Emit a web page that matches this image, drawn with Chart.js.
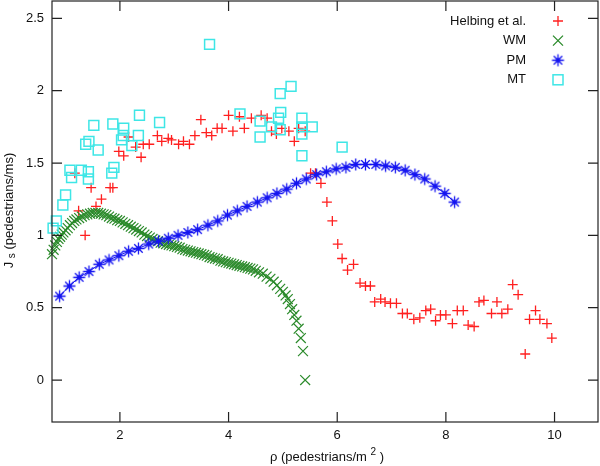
<!DOCTYPE html>
<html><head><meta charset="utf-8">
<style>html,body{margin:0;padding:0;background:#fff}#wrap{width:600px;height:466px}</style>
<script src="https://cdn.jsdelivr.net/npm/chart.js@4.4.1/dist/chart.umd.min.js"></script>
</head><body><div id="wrap"><canvas id="c" width="600" height="466"></canvas></div>
<script>
// ---- data ----
const xTicks = [2, 4, 6, 8, 10];
const yTicks = [0, 0.5, 1, 1.5, 2, 2.5];
const seriesNames = ["Helbing et al.", "WM", "PM", "MT"];

const helbingX = [1.17,1.24,1.36,1.47,1.56,1.66,1.82,1.87,1.98,2.07,2.16,2.29,2.39,2.43,2.54,2.69,2.77,2.89,2.95,3.08,3.17,3.28,3.38,3.49,3.59,3.69,3.79,3.88,4.00,4.08,4.20,4.29,4.42,4.60,4.71,4.79,4.88,4.98,5.11,5.21,5.29,5.41,5.51,5.60,5.70,5.81,5.91,6.01,6.09,6.19,6.30,6.42,6.52,6.61,6.69,6.80,6.88,6.98,7.09,7.20,7.29,7.41,7.52,7.63,7.72,7.81,7.90,8.00,8.12,8.21,8.32,8.41,8.52,8.61,8.70,8.84,8.94,9.03,9.14,9.23,9.33,9.46,9.54,9.65,9.73,9.86,9.95];
const helbingY = [1.43,1.17,1.00,1.33,1.20,1.25,1.33,1.33,1.58,1.55,1.68,1.61,1.54,1.63,1.63,1.69,1.65,1.67,1.66,1.63,1.65,1.63,1.69,1.80,1.71,1.69,1.74,1.74,1.83,1.72,1.82,1.74,1.81,1.83,1.81,1.72,1.70,1.74,1.72,1.65,1.74,1.72,1.43,1.43,1.36,1.23,1.10,0.94,0.84,0.76,0.80,0.67,0.65,0.65,0.54,0.56,0.54,0.53,0.53,0.46,0.46,0.42,0.43,0.48,0.49,0.41,0.45,0.45,0.39,0.48,0.48,0.38,0.37,0.54,0.55,0.46,0.54,0.46,0.49,0.66,0.59,0.18,0.42,0.48,0.42,0.39,0.29];

const wmX = [0.75,0.78,0.81,0.84,0.87,0.90,0.93,0.96,1.00,1.04,1.08,1.12,1.16,1.20,1.25,1.30,1.35,1.40,1.45,1.50,1.55,1.60,1.65,1.70,1.75,1.80,1.85,1.90,1.95,2.00,2.05,2.10,2.15,2.20,2.25,2.30,2.35,2.40,2.45,2.50,2.55,2.60,2.65,2.70,2.75,2.80,2.85,2.90,2.95,3.00,3.05,3.10,3.15,3.20,3.25,3.30,3.35,3.40,3.45,3.50,3.55,3.60,3.65,3.70,3.75,3.80,3.85,3.90,3.95,4.00,4.05,4.10,4.15,4.20,4.25,4.30,4.35,4.40,4.45,4.50,4.56,4.63,4.70,4.77,4.83,4.89,4.95,5.00,5.05,5.09,5.13,5.17,5.21,5.25,5.29,5.33,5.37,5.41];
const wmY = [0.87,0.90,0.93,0.955,0.975,0.99,1.005,1.02,1.035,1.05,1.07,1.085,1.10,1.11,1.12,1.13,1.14,1.145,1.15,1.155,1.155,1.155,1.15,1.145,1.14,1.13,1.12,1.115,1.105,1.10,1.09,1.08,1.07,1.06,1.05,1.04,1.03,1.02,1.005,0.995,0.985,0.975,0.965,0.96,0.95,0.945,0.94,0.935,0.93,0.925,0.92,0.915,0.905,0.90,0.895,0.89,0.885,0.88,0.875,0.87,0.865,0.86,0.85,0.845,0.84,0.835,0.825,0.82,0.815,0.81,0.805,0.80,0.795,0.79,0.785,0.78,0.775,0.77,0.765,0.755,0.745,0.735,0.715,0.70,0.68,0.655,0.63,0.61,0.585,0.56,0.525,0.49,0.45,0.41,0.355,0.29,0.20,0.00];

const pmX = [0.89,1.07,1.25,1.43,1.62,1.80,1.98,2.16,2.34,2.53,2.71,2.89,3.07,3.25,3.43,3.62,3.80,3.98,4.16,4.34,4.53,4.71,4.89,5.07,5.25,5.43,5.62,5.80,5.98,6.16,6.34,6.52,6.71,6.89,7.07,7.25,7.43,7.61,7.80,7.98,8.16];
const pmY = [0.58,0.65,0.71,0.75,0.80,0.83,0.86,0.89,0.91,0.94,0.96,0.98,1.00,1.02,1.04,1.07,1.10,1.14,1.17,1.20,1.23,1.26,1.29,1.32,1.36,1.39,1.42,1.44,1.46,1.47,1.49,1.49,1.49,1.48,1.47,1.45,1.42,1.39,1.34,1.29,1.23];

const mtX = [0.77,0.83,0.95,1.00,1.08,1.11,1.29,1.42,1.42,1.37,1.43,1.52,1.60,1.85,1.89,1.87,2.03,2.06,2.07,2.22,2.34,2.36,2.73,3.65,4.21,4.58,4.58,4.79,4.92,4.95,4.95,4.96,5.15,5.35,5.35,5.35,5.35,5.54,6.09];
const mtY = [1.05,1.10,1.21,1.28,1.45,1.40,1.45,1.44,1.39,1.63,1.65,1.76,1.59,1.43,1.47,1.77,1.66,1.69,1.74,1.62,1.69,1.83,1.78,2.32,1.84,1.79,1.68,1.75,1.81,1.73,1.98,1.85,2.03,1.81,1.75,1.70,1.55,1.75,1.61];

// ---- styling ----
const RED = '#ff1f1f', GREEN = '#2a8a2a', BLUE = '#1414f0', CYAN = '#3ee6e6';
const FONT = '"Liberation Sans", Arial, Helvetica, sans-serif';

function pts(xs, ys) { return xs.map((x, i) => ({x: x, y: ys[i]})); }

// asterisk-with-dot marker for PM
function makeStar(color) {
  const c = document.createElement('canvas');
  c.width = 15; c.height = 15;
  const g = c.getContext('2d');
  const m = 7.5, r = 6, d = r * Math.SQRT1_2;
  g.strokeStyle = color; g.lineWidth = 1.3;
  g.beginPath();
  g.moveTo(m - r, m); g.lineTo(m + r, m);
  g.moveTo(m, m - r); g.lineTo(m, m + r);
  g.moveTo(m - d, m - d); g.lineTo(m + d, m + d);
  g.moveTo(m - d, m + d); g.lineTo(m + d, m - d);
  g.stroke();
  g.fillStyle = color;
  g.beginPath(); g.arc(m, m, 2.2, 0, Math.PI * 2); g.fill();
  return c;
}
const starImg = makeStar(BLUE);

function drawMarker(ctx, kind, x, y, color) {
  ctx.save();
  ctx.strokeStyle = color;
  if (kind === 'cross') {
    ctx.lineWidth = 1.3; ctx.beginPath();
    ctx.moveTo(x - 5, y); ctx.lineTo(x + 5, y); ctx.moveTo(x, y - 5); ctx.lineTo(x, y + 5); ctx.stroke();
  } else if (kind === 'crossRot') {
    ctx.lineWidth = 1.3; ctx.beginPath();
    ctx.moveTo(x - 5, y - 5); ctx.lineTo(x + 5, y + 5); ctx.moveTo(x - 5, y + 5); ctx.lineTo(x + 5, y - 5); ctx.stroke();
  } else if (kind === 'star') {
    ctx.drawImage(starImg, x - 7.5, y - 7.5);
  } else if (kind === 'rect') {
    ctx.lineWidth = 1.5; ctx.strokeRect(x - 5, y - 5, 10, 10);
  }
  ctx.restore();
}

function drawRich(ctx, pieces, x, y) {
  // pieces: [text, size, dy]; drawn centred on x
  let total = 0;
  pieces.forEach(p => { ctx.font = p[1] + 'px ' + FONT; total += ctx.measureText(p[0]).width; });
  let cx = x - total / 2;
  pieces.forEach(p => {
    ctx.font = p[1] + 'px ' + FONT;
    ctx.fillText(p[0], cx, y + p[2]);
    cx += ctx.measureText(p[0]).width;
  });
}

const decor = {
  id: 'decor',
  afterDraw(chart) {
    const {ctx, chartArea: a, scales: {x, y}} = chart;
    ctx.save();
    // frame
    ctx.strokeStyle = '#222'; ctx.lineWidth = 1.2;
    ctx.strokeRect(a.left, a.top, a.right - a.left, a.bottom - a.top);
    // inward ticks, mirrored
    const L = 10;
    ctx.beginPath();
    x.ticks.forEach(t => {
      const px = x.getPixelForValue(t.value);
      ctx.moveTo(px, a.bottom); ctx.lineTo(px, a.bottom - L);
      ctx.moveTo(px, a.top); ctx.lineTo(px, a.top + L);
    });
    y.ticks.forEach(t => {
      const py = y.getPixelForValue(t.value);
      ctx.moveTo(a.left, py); ctx.lineTo(a.left + L, py);
      ctx.moveTo(a.right, py); ctx.lineTo(a.right - L, py);
    });
    ctx.stroke();

    // axis titles
    ctx.fillStyle = '#111';
    ctx.textBaseline = 'middle';
    ctx.textAlign = 'left';
    drawRich(ctx, [['\u03C1 (pedestrians/m ', 13, 0], ['2', 10, -5], [' )', 13, 0]], (a.left + a.right) / 2 + 2, 457);
    ctx.save();
    ctx.translate(9, (a.top + a.bottom) / 2 - 1);
    ctx.rotate(-Math.PI / 2);
    drawRich(ctx, [['J ', 13, 0], ['s', 10, 3], [' (pedestrians/ms)', 13, 0]], 0, 0);
    ctx.restore();

    // legend (text right-aligned, marker on the right)
    const kinds = ['cross', 'crossRot', 'star', 'rect'];
    const cols = [RED, GREEN, BLUE, CYAN];
    ctx.font = '13px ' + FONT;
    ctx.textAlign = 'right';
    chart.data.datasets.forEach((ds, i) => {
      const ly = 21 + i * 19.6;
      ctx.fillStyle = '#111';
      ctx.fillText(ds.label, 526, ly);
      drawMarker(ctx, kinds[i], 558, ly, cols[i]);
    });
    ctx.restore();
  }
};

new Chart(document.getElementById('c'), {
  type: 'scatter',
  data: {
    datasets: [
      {label: seriesNames[0], data: pts(helbingX, helbingY), pointStyle: 'cross', pointRadius: 5,
       borderColor: RED, backgroundColor: RED, pointBorderWidth: 1.3, order: 3, clip: false},
      {label: seriesNames[1], data: pts(wmX, wmY), pointStyle: 'crossRot', pointRadius: 7,
       borderColor: GREEN, backgroundColor: GREEN, pointBorderWidth: 1.2, order: 2, clip: false},
      {label: seriesNames[2], data: pts(pmX, pmY), pointStyle: starImg, pointRadius: 6,
       showLine: true, borderColor: BLUE, backgroundColor: BLUE, borderWidth: 1, order: 1, clip: false},
      {label: seriesNames[3], data: pts(mtX, mtY), pointStyle: 'rect', pointRadius: 7,
       borderColor: CYAN, backgroundColor: 'rgba(0,0,0,0)', pointBorderWidth: 1.5, order: 0, clip: false}
    ]
  },
  options: {
    responsive: false,
    animation: false,
    events: [],
    layout: {autoPadding: false, padding: {top: 1, right: 2, left: 0, bottom: 0}},
    plugins: {legend: {display: false}, tooltip: {enabled: false}},
    scales: {
      x: {
        type: 'linear', min: 0.75, max: 10.8,
        afterBuildTicks: s => { s.ticks = xTicks.map(v => ({value: v})); },
        afterFit: s => { s.height = 44; s.paddingLeft = 0; s.paddingRight = 0; },
        grid: {display: false, drawTicks: false},
        border: {display: false},
        ticks: {padding: 6, color: '#111', font: {family: FONT, size: 13}, callback: v => String(v)}
      },
      y: {
        type: 'linear', min: -0.29, max: 2.62,
        afterBuildTicks: s => { s.ticks = yTicks.map(v => ({value: v})); },
        afterFit: s => { s.width = 52; s.paddingTop = 0; s.paddingBottom = 0; },
        grid: {display: false, drawTicks: false},
        border: {display: false},
        ticks: {padding: 8, color: '#111', font: {family: FONT, size: 13}, callback: v => String(v)}
      }
    }
  },
  plugins: [decor]
});
</script>
</body></html>
